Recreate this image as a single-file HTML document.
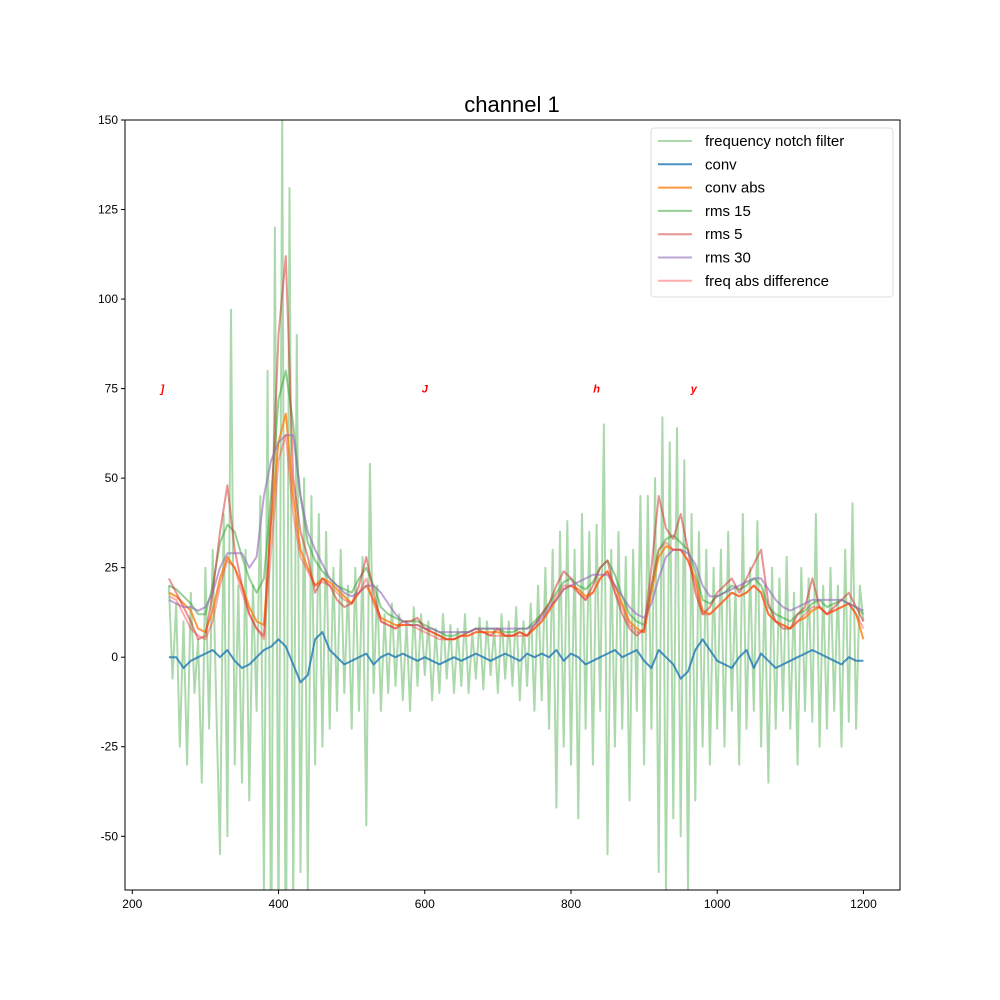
<!DOCTYPE html>
<html><head><meta charset="utf-8"><style>
body{margin:0;background:#fff;}
svg{display:block;font-family:"Liberation Sans","DejaVu Sans",sans-serif;}
</style></head><body>
<svg id="chart" width="1000" height="1000" viewBox="0 0 1000 1000">
<rect width="1000" height="1000" fill="#fff"/>
<defs><clipPath id="clip"><rect x="125" y="120" width="775" height="770"/></clipPath></defs>
<text x="512" y="112" font-size="22" text-anchor="middle">channel 1</text>
<g id="marks" clip-path="url(#clip)"></g>
<g id="axes"></g>
</svg>
<script>
const noiseStart = 250, noiseStep = 5;
const notchValues = [
20,-6,15,-25,10,-30,18,-10,5,-35,
25,-20,30,-15,-55,40,-50,97,-30,20,
-35,30,-40,20,-15,45,-65,80,-90,120,
-80,150,-100,131,-70,90,-60,50,-65,45,
-30,40,-25,35,-20,25,-15,30,-10,20,
-20,25,-15,28,-47,54,-10,20,-15,12,
-10,15,-8,12,-12,10,-15,14,-8,12,
-5,10,-12,8,-10,12,-6,9,-10,8,
-8,12,-10,7,-6,11,-9,10,-5,8,
-10,12,-6,10,-8,14,-12,10,-8,15,
-15,20,-12,25,-20,30,-42,35,-25,38,
-30,30,-45,40,-20,35,-30,37,-15,65,
-55,30,-25,35,-20,28,-40,30,-15,45,
-30,45,-20,50,-60,67,-65,60,-45,64,
-50,55,-65,40,-40,35,-25,30,-30,25,
-20,30,-25,35,-15,20,-30,40,-20,25,
-15,38,-25,20,-35,25,-20,22,-15,28,
-20,18,-30,25,-15,22,-18,40,-25,20,
-20,25,-15,20,-25,30,-18,43,-20,20,
10];
const smoothStart = 250, smoothStep = 10;
const convValues = [0,0,-3,-1,0,1,2,0,2,-1,-3,-2,0,2,3,5,3,-2,-7,-5,5,7,2,0,-2,-1,0,1,-2,0,1,0,1,0,-1,0,-1,-2,-1,0,-1,0,1,0,-1,0,1,0,-1,1,0,1,0,2,-1,1,0,-2,-1,0,1,2,0,1,2,-1,-3,2,0,-2,-6,-4,2,5,2,-1,-2,-3,0,2,-3,1,-1,-3,-2,-1,0,1,2,1,0,-1,-2,0,-1,-1];
const convAbsValues = [18,17,15,13,8,7,13,22,28,25,20,14,10,9,38,60,68,45,30,25,20,22,21,19,17,15,18,20,16,11,10,9,9,9,9,8,7,6,5,5,6,6,7,7,7,7,6,6,7,6,8,10,13,16,19,20,19,17,18,22,24,20,15,10,8,7,18,28,31,30,30,27,22,13,12,14,16,18,17,18,20,18,12,10,9,8,10,11,13,14,12,13,14,15,12,5];
const rms15Values = [20,19,17,15,12,12,20,32,37,35,28,22,18,22,45,72,80,65,45,32,27,24,22,20,19,18,22,25,20,14,12,11,10,10,10,9,8,7,6,6,7,7,8,8,8,8,7,7,8,8,10,12,15,18,21,22,20,19,21,25,27,23,17,12,10,9,20,30,33,34,32,30,24,16,15,17,18,20,19,20,22,20,14,12,11,10,12,13,15,16,14,15,16,15,14,12];
const rms5Values = [22,18,14,10,5,6,18,35,48,30,20,12,8,6,40,90,112,50,35,28,18,22,20,16,14,15,20,28,18,10,9,8,10,10,11,8,7,6,5,5,6,7,8,7,6,8,6,6,7,6,9,12,15,20,24,22,18,16,20,25,27,18,12,8,6,8,25,45,36,33,40,30,18,12,14,18,20,22,18,22,26,30,15,10,8,8,12,14,22,14,12,14,16,18,14,10];
const rms30Values = [16,15,14,14,13,14,18,25,29,29,29,25,28,45,55,60,62,62,45,35,30,26,22,20,18,17,18,20,20,18,15,12,10,9,9,8,8,7,7,7,7,7,8,8,8,8,8,8,8,8,9,11,14,16,19,20,21,22,23,23,23,20,17,14,12,11,15,22,28,30,30,29,26,20,17,17,18,19,20,21,22,22,19,16,14,13,14,15,16,16,16,16,16,15,14,13];
const freqDiffValues = [17,16,12,8,6,5,10,20,27,25,18,12,8,5,30,55,62,40,28,24,20,21,20,18,16,15,18,22,15,10,9,8,9,9,8,7,6,5,5,5,6,6,7,7,6,6,6,6,6,6,8,10,13,17,20,20,18,16,18,22,24,18,14,9,7,7,20,30,32,30,30,27,20,12,12,14,16,18,17,18,20,18,12,10,9,8,10,12,14,14,12,13,14,15,12,8];
const xTicks = [200,400,600,800,1000,1200];
const yTicks = [-50,-25,0,25,50,75,100,125,150];
const markerLabels = ["]","J","h","y"];
const markerX = [241,600,835,968];
const markerY = [75,75,75,75];
const legendLabels = ["frequency notch filter","conv","conv abs","rms 15","rms 5","rms 30","freq abs difference"];

const X0=125,X1=900,Y0=120,Y1=890,XMIN=190,XMAX=1250,YMIN=-65,YMAX=150;
function sx(v){return X0+(v-XMIN)/(XMAX-XMIN)*(X1-X0);}
function sy(v){return Y1-(v-YMIN)/(YMAX-YMIN)*(Y1-Y0);}
const NS="http://www.w3.org/2000/svg";
const marks=document.getElementById('marks'), axes=document.getElementById('axes');
function mk(tag,attrs,parent){const e=document.createElementNS(NS,tag);for(const k in attrs)e.setAttribute(k,attrs[k]);parent.appendChild(e);return e;}

const seriesDefs=[
 {vals:notchValues,start:noiseStart,step:noiseStep,color:"#2ca02c",op:0.4,name:"notch-filter-line"},
 {vals:convValues,start:smoothStart,step:smoothStep,color:"#1f77b4",op:0.8,name:"conv-line"},
 {vals:convAbsValues,start:smoothStart,step:smoothStep,color:"#ff7f0e",op:0.8,name:"conv-abs-line"},
 {vals:rms15Values,start:smoothStart,step:smoothStep,color:"#2ca02c",op:0.5,name:"rms-15-line"},
 {vals:rms5Values,start:smoothStart,step:smoothStep,color:"#d62728",op:0.5,name:"rms-5-line"},
 {vals:rms30Values,start:smoothStart,step:smoothStep,color:"#9467bd",op:0.6,name:"rms-30-line"},
 {vals:freqDiffValues,start:smoothStart,step:smoothStep,color:"#ff3030",op:0.4,name:"freq-abs-diff-line"}
];
seriesDefs.forEach(s=>{
 const pts=s.vals.map((v,i)=>sx(s.start+i*s.step).toFixed(1)+","+sy(v).toFixed(1)).join(" ");
 const p=mk('polyline',{points:pts,fill:"none",stroke:s.color,"stroke-opacity":s.op,"stroke-width":2,"stroke-linejoin":"round"},marks);
 
 
});
markerLabels.forEach((t,i)=>{
 const e=mk('text',{x:sx(markerX[i]),y:sy(markerY[i])+4,"font-size":11,"font-weight":"bold","font-style":"italic",fill:"#ff0000","text-anchor":"middle"},marks);
 e.textContent=t;
 
 
});
const frame=mk('rect',{x:X0,y:Y0,width:X1-X0,height:Y1-Y0,fill:"none",stroke:"#000","stroke-width":1},axes);


xTicks.forEach(t=>{
 const x=sx(t);
 mk('line',{x1:x,x2:x,y1:Y1,y2:Y1+4,stroke:"#000"},axes);
 const e=mk('text',{x:x,y:Y1+18,"font-size":12,"text-anchor":"middle"},axes);
 e.textContent=t;
 
 
});
yTicks.forEach(t=>{
 const y=sy(t);
 mk('line',{x1:X0-4,x2:X0,y1:y,y2:y,stroke:"#000"},axes);
 const e=mk('text',{x:X0-7,y:y+4,"font-size":12,"text-anchor":"end"},axes);
 e.textContent=t;
 
 
});
const lg=mk('g',{},axes);


mk('rect',{x:651,y:128,width:242,height:169,rx:3,fill:"#fff","fill-opacity":0.8,stroke:"#ddd"},lg);
legendLabels.forEach((t,i)=>{
 const y=141+i*23.3;
 const s=seriesDefs[i];
 mk('line',{x1:658,x2:692,y1:y,y2:y,stroke:s.color,"stroke-opacity":s.op,"stroke-width":2},lg);
 const e=mk('text',{x:705,y:y+5,"font-size":15},lg);
 e.textContent=t;
 
 
});
</script>
</body></html>
